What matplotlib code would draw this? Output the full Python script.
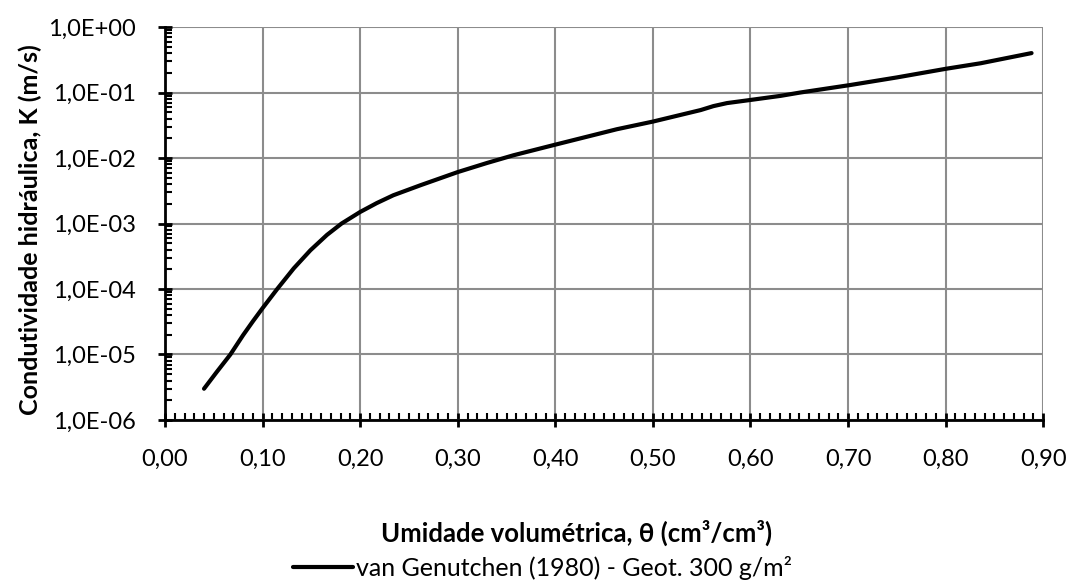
import matplotlib
matplotlib.use("Agg")
import matplotlib.pyplot as plt
from matplotlib.ticker import FixedLocator, LogLocator, NullFormatter, FuncFormatter, MultipleLocator

plt.rcParams['font.family'] = ['Lato', 'DejaVu Sans']

# Volumetric water content and hydraulic conductivity (van Genuchten fit)
theta = [0.040, 0.053, 0.067, 0.080, 0.090, 0.100, 0.115, 0.132, 0.149, 0.166, 0.181,
         0.200, 0.217, 0.234, 0.262, 0.300, 0.330, 0.357, 0.400, 0.463, 0.500, 0.549,
         0.562, 0.576, 0.600, 0.631, 0.651, 0.702, 0.750, 0.800, 0.836, 0.888]
K = [3.0e-6, 5.4e-6, 1.0e-5, 1.97e-5, 3.2e-5, 5.1e-5, 1.0e-4, 2.07e-4, 3.9e-4, 6.7e-4,
     1.0e-3, 1.5e-3, 2.05e-3, 2.7e-3, 3.85e-3, 6.1e-3, 8.4e-3, 1.1e-2, 1.6e-2, 2.75e-2,
     3.6e-2, 5.4e-2, 6.2e-2, 6.9e-2, 7.7e-2, 8.9e-2, 1.0e-1, 1.3e-1, 1.7e-1, 2.3e-1,
     2.8e-1, 4.0e-1]

x_ticks = [0.0, 0.1, 0.2, 0.3, 0.4, 0.5, 0.6, 0.7, 0.8, 0.9]
y_ticks = [1e-6, 1e-5, 1e-4, 1e-3, 1e-2, 1e-1, 1e0]
y_tick_labels = ["1,0E-06", "1,0E-05", "1,0E-04", "1,0E-03", "1,0E-02", "1,0E-01", "1,0E+00"]

series_label = "van Genutchen (1980) - Geot. 300 g/m²"
x_label = "Umidade volumétrica, θ (cm³/cm³)"
y_label = "Condutividade hidráulica, K (m/s)"

fig = plt.figure(figsize=(10.7, 5.8), dpi=100)
ax = fig.add_axes([0.1542, 0.2759, 0.8208, 0.6775])

line, = ax.plot(theta, K, color='black', lw=3, solid_capstyle='round',
                solid_joinstyle='round', label=series_label, zorder=3)

ax.set_yscale('log')
ax.set_xlim(0, 0.9)
ax.set_ylim(1e-6, 1e0)

ax.xaxis.set_major_locator(FixedLocator(x_ticks))
ax.xaxis.set_major_formatter(FuncFormatter(lambda v, p: f"{v:.2f}".replace('.', ',')))
ax.xaxis.set_minor_locator(MultipleLocator(0.01))

ax.yaxis.set_major_locator(FixedLocator(y_ticks))
ax.set_yticklabels(y_tick_labels)
ax.yaxis.set_minor_locator(LogLocator(base=10, subs=range(2, 10), numticks=20))
ax.yaxis.set_minor_formatter(NullFormatter())

ax.grid(True, which='major', color='#8c8c8c', lw=1.5)
ax.set_axisbelow(True)

for s in ['top', 'right']:
    ax.spines[s].set_visible(False)
for s in ['left', 'bottom']:
    ax.spines[s].set_color('black')
    ax.spines[s].set_linewidth(2)

ax.tick_params(which='major', direction='inout', length=10, width=2, color='black',
               labelsize=17)
ax.tick_params(which='minor', direction='in', length=5, width=1.5, color='black')
ax.tick_params(axis='x', pad=16)
ax.tick_params(axis='y', pad=16)

fig.text(0.539, 1 - 533 / 580, x_label, fontsize=18.5, fontweight='bold',
         ha='center', va='center')
fig.text(0.028, 1 - 230 / 580, y_label, fontsize=18, fontweight='bold',
         ha='center', va='center', rotation=90)

fig.legend(handles=[line], loc='center', bbox_to_anchor=(0.507, 1 - 568 / 580),
           frameon=False, fontsize=18, handlelength=2.4, handletextpad=0.1,
           borderpad=0, borderaxespad=0)

fig.savefig('out.png', dpi=100)
